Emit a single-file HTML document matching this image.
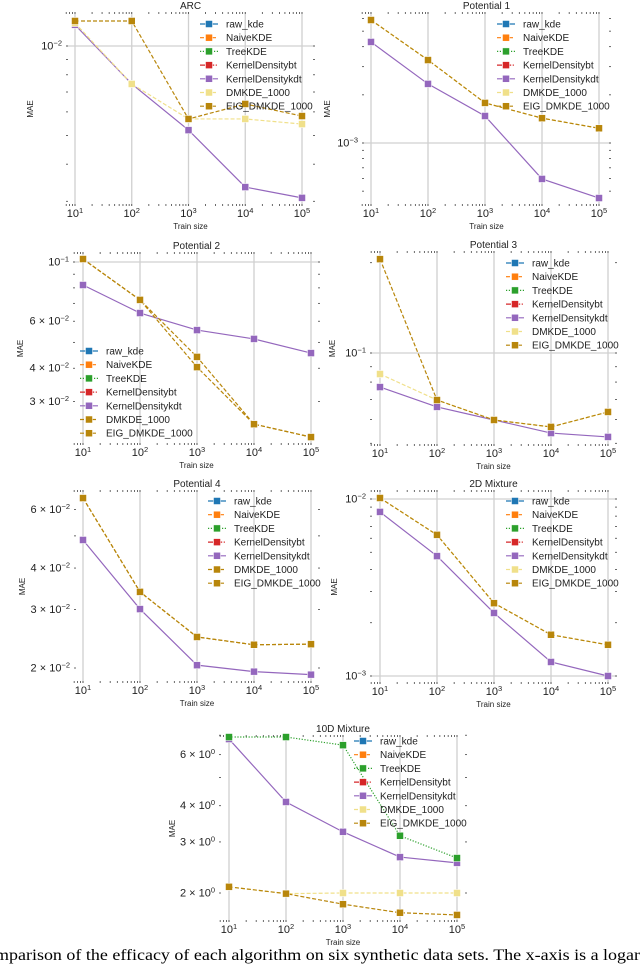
<!DOCTYPE html>
<html><head><meta charset="utf-8">
<style>
html,body{margin:0;padding:0;background:#fff;}
svg{display:block;font-family:"Liberation Sans","DejaVu Sans",sans-serif;}
</style></head>
<body>
<svg id="fig" width="640" height="964" viewBox="0 0 640 964" xmlns="http://www.w3.org/2000/svg">
<text x="-5" y="960" font-family="Liberation Serif, serif" font-size="16" textLength="650" lengthAdjust="spacingAndGlyphs">mparison of the efficacy of each algorithm on six synthetic data sets. The x-axis is a logari</text>
</svg>
<script>
// shared x categories
const trainSizes = [10, 100, 1000, 10000, 100000];
const xTickLabels = ['1', '2', '3', '4', '5'];

// ARC
const arcKdt = [0.01178, 0.00745, 0.00521, 0.00335, 0.00308];
const arcDm  = [0.01195, 0.00745, 0.00568, 0.00568, 0.00546];
const arcEig = [0.01214, 0.01214, 0.00568, 0.00638, 0.00581];
// Potential 1
const p1Kdt = [0.00428, 0.00234, 0.001475, 0.000596, 0.000453];
const p1Dm  = [0.00587, 0.0033, 0.00178, 0.00143, 0.001236];
const p1Eig = [0.00587, 0.0033, 0.00178, 0.00143, 0.001236];
// Potential 2
const p2Kdt = [0.082, 0.0644, 0.0556, 0.0515, 0.0456];
const p2Dm  = [0.1026, 0.0721, 0.0441, 0.0247, 0.0221];
const p2Eig = [0.1026, 0.0721, 0.0404, 0.0247, 0.0221];
// Potential 3
const p3Kdt = [0.077, 0.0661, 0.0598, 0.0541, 0.0525];
const p3Dm  = [0.0851, 0.0697, 0.0598, 0.0567, 0.0636];
const p3Eig = [0.2056, 0.0697, 0.0598, 0.0567, 0.0636];
// Potential 4
const p4Kdt = [0.0486, 0.0301, 0.0204, 0.0195, 0.0191];
const p4Dm  = [0.065, 0.0339, 0.0248, 0.0235, 0.0236];
const p4Eig = [0.065, 0.0339, 0.0248, 0.0235, 0.0236];
// 2D Mixture
const m2Kdt = [0.00845, 0.00476, 0.00227, 0.0012, 0.001];
const m2Dm  = [0.01013, 0.00627, 0.00258, 0.00171, 0.0015];
const m2Eig = [0.01013, 0.00627, 0.00258, 0.00171, 0.0015];
// 10D Mixture
const m10Kdt  = [6.79, 4.12, 3.25, 2.66, 2.54];
const m10Tree = [6.90, 6.90, 6.47, 3.15, 2.64];
const m10Dm   = [2.10, 1.99, 2.0, 2.0, 2.0];
const m10Eig  = [2.10, 1.99, 1.83, 1.71, 1.68];

// y tick labels per panel: [value, mantissa text, exponent]
const arcTicks = [[0.01, '10', '−2']];
const p1Ticks = [[0.001, '10', '−3']];
const p2Ticks = [[0.1, '10', '−1'], [0.06, '6 × 10', '−2'], [0.04, '4 × 10', '−2'], [0.03, '3 × 10', '−2']];
const p3Ticks = [[0.1, '10', '−1']];
const p4Ticks = [[0.06, '6 × 10', '−2'], [0.04, '4 × 10', '−2'], [0.03, '3 × 10', '−2'], [0.02, '2 × 10', '−2']];
const m2Ticks = [[0.01, '10', '−2'], [0.001, '10', '−3']];
const m10Ticks = [[6, '6 × 10', '0'], [4, '4 × 10', '0'], [3, '3 × 10', '0'], [2, '2 × 10', '0']];

const NS = 'http://www.w3.org/2000/svg';
const svg = document.getElementById('fig');
function mk(tag, attrs, parent) {
  const e = document.createElementNS(NS, tag);
  for (const k in attrs) e.setAttribute(k, attrs[k]);
  (parent || svg).appendChild(e);
  return e;
}
const COL = {raw:'#1f77b4', naive:'#ff7f0e', tree:'#2ca02c', bt:'#d62728', kdt:'#9467bd', dm:'#f0e08a', eig:'#b8860b'};
const DASH = {solid:'', dash:'4,2', dot:'1.2,1.6', dashdot:'5,1.5,1.2,1.5'};

const panels = [
  {key:'arc', title:'ARC', L:66, R:315, T:12, B:206, x1:75, x5:302, yv:0.01, yp:46, D:297, ticks:arcTicks, leg:[200,24], dmLegDark:false, mae:33,
   series:[['kdt',arcKdt,'solid'],['dm',arcDm,'dash'],['eig',arcEig,'dash']]},
  {key:'p1', title:'Potential 1', L:362, R:611, T:12, B:206, x1:371, x5:599, yv:0.001, yp:143, D:160, ticks:p1Ticks, leg:[497,24], dmLegDark:false, mae:32,
   series:[['kdt',p1Kdt,'solid'],['dm',p1Dm,'dash'],['eig',p1Eig,'dash']]},
  {key:'p2', title:'Potential 2', L:73, R:320, T:252, B:445, x1:83, x5:311, yv:0.1, yp:262, D:267, ticks:p2Ticks, leg:[80,351], dmLegDark:true, mae:50,
   series:[['kdt',p2Kdt,'solid'],['eig',p2Dm,'dash'],['eig',p2Eig,'dash']]},
  {key:'p3', title:'Potential 3', L:370, R:617, T:251, B:446, x1:380, x5:608, yv:0.1, yp:353, D:300, ticks:p3Ticks, leg:[506,263], dmLegDark:false, mae:35,
   series:[['kdt',p3Kdt,'solid'],['dm',p3Dm,'dash'],['eig',p3Eig,'dash']]},
  {key:'p4', title:'Potential 4', L:74, R:320, T:490, B:683, x1:83, x5:311, yv:0.02, yp:668, D:332, ticks:p4Ticks, leg:[208,501], dmLegDark:true, mae:49,
   series:[['kdt',p4Kdt,'solid'],['eig',p4Dm,'dash'],['eig',p4Eig,'dash']]},
  {key:'m2', title:'2D Mixture', L:370, R:617, T:490, B:684, x1:380, x5:608, yv:0.01, yp:499, D:177, ticks:m2Ticks, leg:[506,501], dmLegDark:false, mae:33,
   series:[['kdt',m2Kdt,'solid'],['dm',m2Dm,'dash'],['eig',m2Eig,'dash']]},
  {key:'m10', title:'10D Mixture', L:219, R:467, T:735, B:922, x1:229, x5:457, yv:2, yp:893, D:290, ticks:m10Ticks, leg:[354,741], dmLegDark:false, mae:44,
   series:[['kdt',m10Kdt,'solid'],['tree',m10Tree,'dot'],['dm',m10Dm,'dash'],['eig',m10Eig,'dash']]}
];

panels.forEach(p => {
  const g = mk('g', {});
  
  
  const xs = v => p.x1 + (Math.log10(v) - 1) * (p.x5 - p.x1) / 4;
  const ys = v => p.yp - (Math.log10(v) - Math.log10(p.yv)) * p.D;
  trainSizes.forEach(t => {
    const gl = mk('line', {x1:xs(t), x2:xs(t), y1:p.T, y2:p.B, stroke:'#d0d0d0', 'stroke-width':1.3}, g);
    
    
  });
  const lo = Math.log10(p.yv) - (p.B - p.yp) / p.D, hi = Math.log10(p.yv) + (p.yp - p.T) / p.D;
  for (let e = Math.floor(lo) - 1; e <= Math.ceil(hi); e++) {
    for (let k = 1; k <= 9; k++) {
      const v = k * Math.pow(10, e), lv = Math.log10(v);
      if (lv < lo || lv > hi) continue;
      const y = ys(v);
      if (k === 1) {
        const hl = mk('line', {x1:p.L, x2:p.R, y1:y, y2:y, stroke:'#d0d0d0', 'stroke-width':1.3}, g);
        
        
      }
      mk('line', {x1:p.L, x2:p.L + 2, y1:y, y2:y, stroke:'#444', 'stroke-width':0.8}, g);
      mk('line', {x1:p.R - 2, x2:p.R, y1:y, y2:y, stroke:'#444', 'stroke-width':0.8}, g);
    }
  }
  for (let e = 0; e <= 5; e++) {
    for (let k = 1; k <= 9; k++) {
      const v = k * Math.pow(10, e), x = xs(v);
      if (x < p.L || x > p.R) continue;
      mk('line', {x1:x, x2:x, y1:p.T, y2:p.T + 2, stroke:'#444', 'stroke-width':0.8}, g);
      mk('line', {x1:x, x2:x, y1:p.B - 2, y2:p.B, stroke:'#444', 'stroke-width':0.8}, g);
    }
  }
  trainSizes.forEach((t, i) => {
    const tx = mk('text', {x:xs(t), y:p.B + 11, 'text-anchor':'middle', 'font-size':11, fill:'#222'}, g);
    
    
    tx.textContent = '10';
    const sup = mk('tspan', {dy:-4, 'font-size':7.5}, tx);
    sup.textContent = xTickLabels[i];
  });
  p.ticks.forEach(t => {
    const ty = mk('text', {x:p.L - 4, y:ys(t[0]) + 3.5, 'text-anchor':'end', 'font-size':11, fill:'#222'}, g);
    
    
    const a = mk('tspan', {}, ty); a.textContent = t[1];
    const b = mk('tspan', {dy:-4, 'font-size':7.5}, ty); b.textContent = t[2];
  });
  const cx = (p.L + p.R) / 2;
  const ti = mk('text', {x:cx, y:p.T - 3, 'text-anchor':'middle', 'font-size':10, fill:'#222'}, g);
  
  
  ti.textContent = p.title;
  const xl = mk('text', {x:cx, y:p.B + 23, 'text-anchor':'middle', 'font-size':8, fill:'#222'}, g);
  
  
  xl.textContent = 'Train size';
  const my = (p.T + p.B) / 2, mx = p.L - p.mae;
  const yl = mk('text', {x:mx, y:my, 'text-anchor':'middle', 'font-size':8, fill:'#222', transform:'rotate(-90 ' + mx + ' ' + my + ')'}, g);
  
  
  yl.textContent = 'MAE';
  p.series.forEach(s => {
    const c = COL[s[0]], vals = s[1];
    const pts = vals.map((v, i) => xs(trainSizes[i]) + ',' + ys(v)).join(' ');
    const ln = mk('polyline', {points:pts, fill:'none', stroke:c, 'stroke-width':1.2, 'stroke-dasharray':DASH[s[2]]}, g);
    
    
    vals.forEach((v, i) => {
      const m = mk('rect', {x:xs(trainSizes[i]) - 3.5, y:ys(v) - 3.5, width:7, height:7, fill:c, stroke:'#fff', 'stroke-width':0.5}, g);
      
      
    });
  });
  const leg = [['raw_kde','raw','solid'],['NaiveKDE','naive','dash'],['TreeKDE','tree','dot'],['KernelDensitybt','bt','dashdot'],['KernelDensitykdt','kdt','solid'],['DMKDE_1000', p.dmLegDark ? 'eig' : 'dm','dash'],['EIG_DMKDE_1000','eig','dash']];
  const lg = mk('g', {}, g);
  
  
  leg.forEach((e, i) => {
    const y = p.leg[1] + i * 13.7, x = p.leg[0];
    const eg = mk('g', {}, lg);
    
    
    mk('line', {x1:x, x2:x + 18, y1:y, y2:y, stroke:COL[e[1]], 'stroke-width':1.2, 'stroke-dasharray':DASH[e[2]]}, eg);
    mk('rect', {x:x + 5.5, y:y - 3.5, width:7, height:7, fill:COL[e[1]], stroke:'#fff', 'stroke-width':0.5}, eg);
    const t = mk('text', {x:x + 26, y:y + 3.5, 'font-size':10, fill:'#222'}, eg);
    t.textContent = e[0];
  });
});
</script>
</body></html>
